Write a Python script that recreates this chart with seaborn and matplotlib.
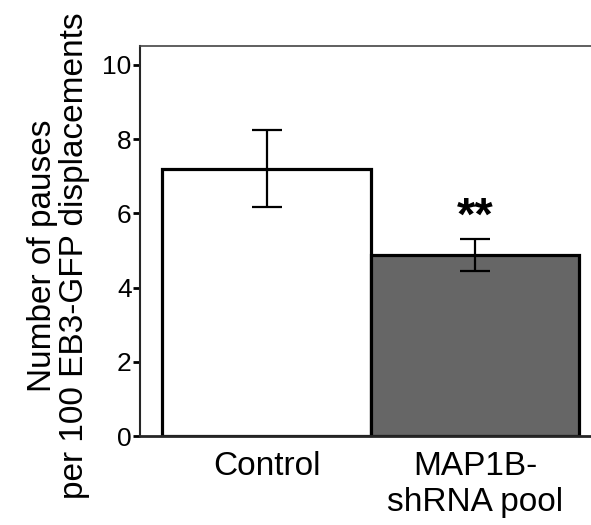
import pandas as pd
import matplotlib
matplotlib.use('Agg')
import matplotlib.pyplot as plt
import seaborn as sns

# Values
groups = ['Control', 'MAP1B-\nshRNA pool']
means = [7.2, 4.88]
errors = [1.03, 0.43]
bar_colors = ['#ffffff', '#666666']

df = pd.DataFrame({'Group': groups, 'Pauses': means})

sns.set_style('ticks')
plt.rcParams['font.family'] = ['Liberation Sans', 'DejaVu Sans']
plt.rcParams['text.color'] = 'black'
plt.rcParams['axes.labelcolor'] = 'black'
plt.rcParams['xtick.color'] = 'black'
plt.rcParams['ytick.color'] = 'black'

fig = plt.figure(figsize=(5.91, 5.25), dpi=100)
ax = fig.add_axes([0.237, 0.1695, 0.763, 0.7425])

sns.barplot(x='Group', y='Pauses', data=df, hue='Group', palette=bar_colors,
            errorbar=None, width=1.0, edgecolor='black', linewidth=2.3,
            legend=False, ax=ax, zorder=2)

ax.errorbar(x=range(len(groups)), y=means, yerr=errors, fmt='none',
            ecolor='black', elinewidth=1.6, capsize=11, capthick=1.6, zorder=3)

ax.text(1, 5.88, '**', ha='center', va='center', fontsize=34, fontweight='bold')

ax.set_xlim(-0.607, 1.556)
ax.set_ylim(0, 10.5)
ax.set_yticks([0, 2, 4, 6, 8, 10])
ax.tick_params(axis='y', labelsize=19, length=5, width=2, pad=1, direction='out')
ax.tick_params(axis='x', labelsize=24, length=0, pad=11)
ax.set_xlabel('')
ax.set_ylabel('Number of pauses\nper 100 EB3-GFP displacements', fontsize=24,
              linespacing=1.05)
ax.yaxis.set_label_coords(-0.111, 0.4615)

ax.spines['right'].set_visible(False)
ax.spines['top'].set_color('#444444')
ax.spines['top'].set_linewidth(1.2)
ax.spines['left'].set_linewidth(1.5)
ax.spines['bottom'].set_linewidth(2)

fig.savefig('out.png', dpi=100)
